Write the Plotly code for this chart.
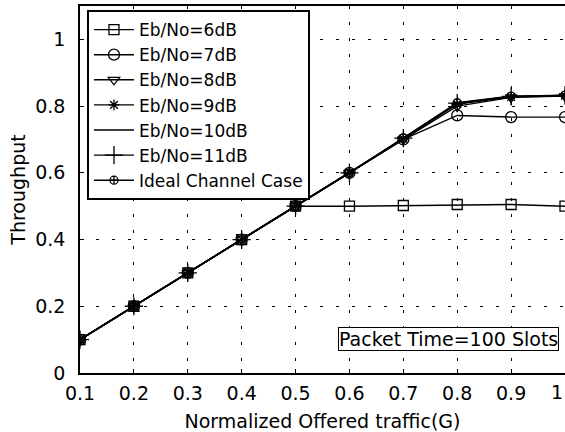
import plotly.graph_objects as go

G = [0.1, 0.2, 0.3, 0.4, 0.5, 0.6, 0.7, 0.8, 0.9, 1.0]
s6 = [0.1, 0.2, 0.3, 0.4, 0.5, 0.5, 0.502, 0.505, 0.505, 0.5]
s7 = [0.1, 0.2, 0.3, 0.4, 0.5, 0.6, 0.7, 0.772, 0.767, 0.767]
s8 = [0.1, 0.2, 0.3, 0.4, 0.5, 0.6, 0.7, 0.800, 0.826, 0.830]
s9 = [0.1, 0.2, 0.3, 0.4, 0.5, 0.6, 0.702, 0.806, 0.827, 0.831]
s10 = [0.1, 0.2, 0.3, 0.4, 0.5, 0.6, 0.703, 0.808, 0.828, 0.832]
s11 = [0.1, 0.2, 0.3, 0.4, 0.5, 0.6, 0.704, 0.809, 0.829, 0.832]
ideal = [0.1, 0.2, 0.3, 0.4, 0.5, 0.6, 0.704, 0.81, 0.83, 0.833]

names = ["Eb/No=6dB", "Eb/No=7dB", "Eb/No=8dB", "Eb/No=9dB",
         "Eb/No=10dB", "Eb/No=11dB", "Ideal Channel Case"]
series = [s6, s7, s8, s9, s10, s11, ideal]
symbols = ["square-open", "circle-open", "triangle-down-open", "asterisk-open",
           None, "cross-thin-open", "circle-cross-open"]
sizes = [10, 11, 10, 9, 0, 13, 8]

x_ticks = [0.1, 0.2, 0.3, 0.4, 0.5, 0.6, 0.7, 0.8, 0.9, 1.0]
x_ticktext = ["0.1", "0.2", "0.3", "0.4", "0.5", "0.6", "0.7", "0.8", "0.9", ""]
y_ticks = [0, 0.2, 0.4, 0.6, 0.8, 1.0]
y_ticktext = ["0", "0.2", "0.4", "0.6", "0.8", "1"]

FONT = "DejaVu Sans, Liberation Sans, Arial, sans-serif"

fig = go.Figure()
for name, ys, sym, sz in zip(names, series, symbols, sizes):
    if sym is None:
        fig.add_trace(go.Scatter(x=G, y=ys, name=name, mode="lines",
                                 line=dict(color="black", width=1.4)))
    else:
        fig.add_trace(go.Scatter(x=G, y=ys, name=name, mode="lines+markers",
                                 line=dict(color="black", width=1.4),
                                 marker=dict(symbol=sym, size=sz, color="black",
                                             line=dict(color="black", width=1.3))))

grid_dash = "3px,13px"
fig.update_layout(
    width=565, height=432,
    margin=dict(l=80, r=0, t=6, b=59),
    paper_bgcolor="white", plot_bgcolor="white",
    font=dict(family=FONT, color="black", size=18),
    showlegend=True,
    legend=dict(x=0.0144, y=0.989, xanchor="left", yanchor="top",
                bordercolor="black", borderwidth=2, bgcolor="white",
                font=dict(size=17), tracegroupgap=0, itemwidth=40),
    xaxis=dict(range=[0.1, 1.0], tickvals=x_ticks, ticktext=x_ticktext,
               showline=True, linecolor="black", linewidth=1.5, mirror=True,
               ticks="inside", ticklen=4, tickcolor="black",
               showgrid=True, gridcolor="black", gridwidth=1, griddash=grid_dash,
               tickfont=dict(size=19), ticklabelstandoff=2,
               title=dict(text="Normalized Offered traffic(G)", font=dict(size=19), standoff=15),
               automargin=False, zeroline=False),
    yaxis=dict(range=[0, 1.1], tickvals=y_ticks, ticktext=y_ticktext,
               showline=True, linecolor="black", linewidth=1.5, mirror=True,
               ticks="inside", ticklen=4, tickcolor="black",
               showgrid=True, gridcolor="black", gridwidth=1, griddash=grid_dash,
               tickfont=dict(size=19), ticklabelstandoff=9,
               title=dict(text="Throughput", font=dict(size=19), standoff=5),
               automargin=False, zeroline=False),
    annotations=[
        dict(text="Packet Time=100 Slots", xref="paper", yref="paper",
             x=0.988, y=0.094, xanchor="right", yanchor="middle",
             showarrow=False, font=dict(size=19),
             bordercolor="black", borderwidth=1, borderpad=0, bgcolor="white"),
        dict(text="1", xref="x", yref="paper", x=1.0, y=0, xanchor="right",
             yanchor="top", yshift=-6, showarrow=False, font=dict(size=19)),
    ],
)

fig.write_html("out.html", config={"displayModeBar": False},
               post_script="document.body.style.margin='0';")
